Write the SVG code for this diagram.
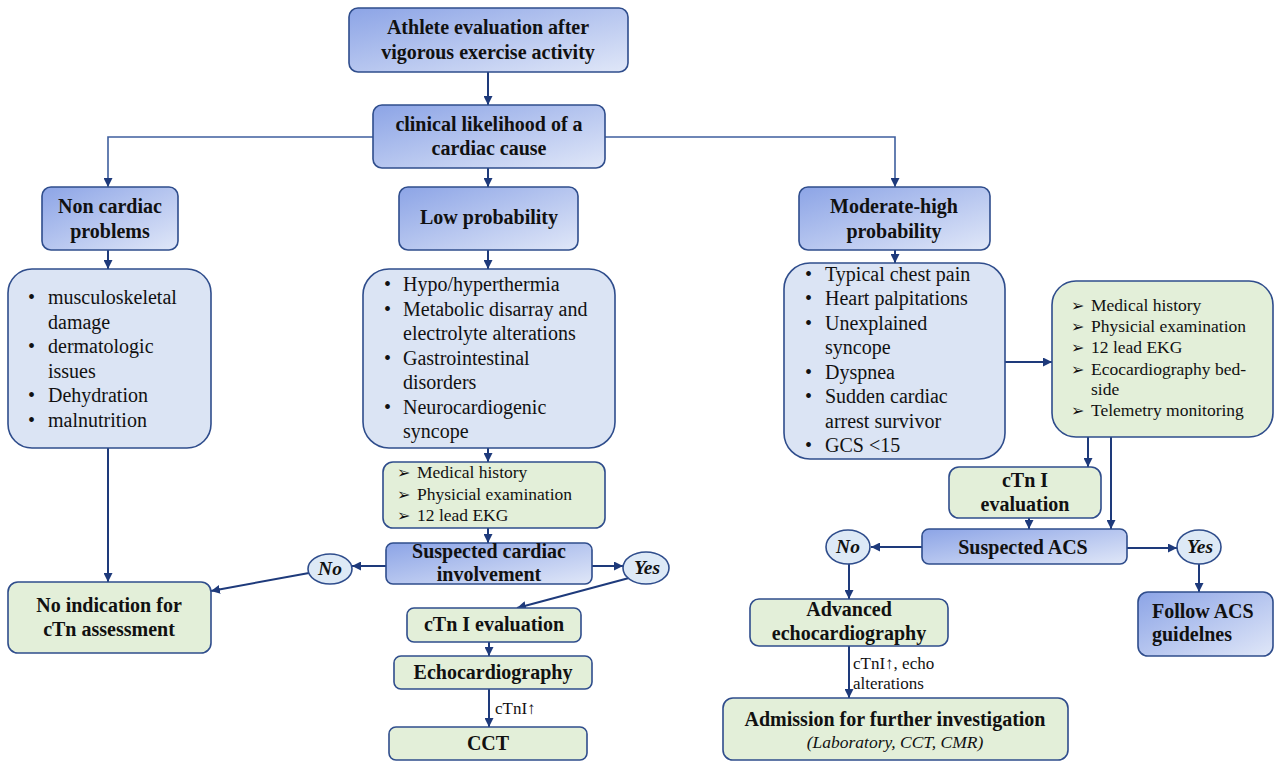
<svg xmlns="http://www.w3.org/2000/svg" width="1274" height="762" viewBox="0 0 1274 762">
<defs>
<linearGradient id="gblue" x1="0" y1="0" x2="1" y2="1">
<stop offset="0" stop-color="#8ca4e6"/>
<stop offset="1" stop-color="#e0e7f8"/>
</linearGradient>
<marker id="ah" viewBox="0 0 10 10" refX="10" refY="5" markerWidth="9" markerHeight="9" markerUnits="userSpaceOnUse" orient="auto">
<path d="M0,0 L10,5 L0,10 z" fill="#1e3a7b"/>
</marker>
<style>
.bb{fill:url(#gblue);stroke:#2f4d8c;stroke-width:1.6}
.lb{fill:#dbe4f4;stroke:#2f4d8c;stroke-width:1.6}
.gb{fill:#e3efd9;stroke:#2f4d8c;stroke-width:1.6}
.el{fill:#dde9f6;stroke:#2f4d8c;stroke-width:1.6}
text{font-family:"Liberation Serif","Times New Roman",serif;fill:#111}
.t{font-weight:bold;font-size:20px;text-anchor:middle}
.l{font-size:20px}
.s{font-size:17.5px}
.bu{font-family:"DejaVu Sans",sans-serif;font-size:16px;font-weight:bold}
.yn{font-weight:bold;font-style:italic;font-size:19.5px;text-anchor:middle}
.c{fill:none;stroke:#1e3a7b;stroke-width:2}
.h{fill:none;stroke:#3f5f9e;stroke-width:1.6}
.lab{font-size:17px}
</style>
</defs>

<g id="connectors">
<path class="c" d="M488,72 V105" marker-end="url(#ah)"/>
<path class="h" d="M373,137 H108 V187" marker-end="url(#ah)"/>
<path class="h" d="M605,137 H895 V187" marker-end="url(#ah)"/>
<path class="c" d="M488,168 V187" marker-end="url(#ah)"/>
<path class="c" d="M488,250 V269" marker-end="url(#ah)"/>
<path class="c" d="M108,250 V269" marker-end="url(#ah)"/>
<path class="c" d="M108,448 V582" marker-end="url(#ah)"/>
<path class="c" d="M488,448 V462" marker-end="url(#ah)"/>
<path class="c" d="M488,528 V543" marker-end="url(#ah)"/>
<path class="c" d="M386,566 H352" marker-end="url(#ah)"/>
<path class="c" d="M592,566 H623" marker-end="url(#ah)"/>
<path class="c" d="M309,573 L211,591" marker-end="url(#ah)"/>
<path class="c" d="M629,578 L517,608" marker-end="url(#ah)"/>
<path class="c" d="M489,642 V656" marker-end="url(#ah)"/>
<path class="c" d="M489,689 V727" marker-end="url(#ah)"/>
<path class="c" d="M895,250 V263" marker-end="url(#ah)"/>
<path class="c" d="M1005,362 H1052" marker-end="url(#ah)"/>
<path class="c" d="M1088,437 V467" marker-end="url(#ah)"/>
<path class="c" d="M1111,437 V529" marker-end="url(#ah)"/>
<path class="c" d="M1029,518 V529" marker-end="url(#ah)"/>
<path class="c" d="M922,547 H871" marker-end="url(#ah)"/>
<path class="c" d="M1127,548 H1177" marker-end="url(#ah)"/>
<path class="c" d="M849,564 V599" marker-end="url(#ah)"/>
<path class="c" d="M1199,564 V592" marker-end="url(#ah)"/>
<path class="c" d="M849,646 V698" marker-end="url(#ah)"/>
<text class="lab" x="495" y="714">cTnI↑</text>
<text class="lab" x="853" y="669">cTnI↑, echo</text>
<text class="lab" x="853" y="689">alterations</text>
</g>

<g id="n-start">
<rect class="bb" x="349" y="8" width="279" height="64" rx="9"/>
<text class="t" x="488" y="34">Athlete evaluation after</text>
<text class="t" x="488" y="59">vigorous exercise activity</text>
</g>

<g id="n-clinical">
<rect class="bb" x="373" y="105" width="232" height="63" rx="9"/>
<text class="t" x="489" y="131">clinical likelihood of a</text>
<text class="t" x="489" y="155">cardiac cause</text>
</g>

<g id="n-noncardiac">
<rect class="bb" x="42" y="187" width="136" height="63" rx="9"/>
<text class="t" x="110" y="213">Non cardiac</text>
<text class="t" x="110" y="238">problems</text>
</g>

<g id="n-low">
<rect class="bb" x="399" y="187" width="179" height="63" rx="9"/>
<text class="t" x="489" y="224">Low probability</text>
</g>

<g id="n-moderate">
<rect class="bb" x="799" y="187" width="191" height="63" rx="9"/>
<text class="t" x="894" y="213">Moderate-high</text>
<text class="t" x="894" y="238">probability</text>
</g>

<g id="n-noncardiac-list">
<rect class="lb" x="8" y="269" width="203" height="179" rx="24"/>
<text class="l"><tspan x="28" y="304">•</tspan><tspan x="48" y="304">musculoskeletal</tspan><tspan x="48" y="328.5">damage</tspan><tspan x="28" y="353">•</tspan><tspan x="48" y="353">dermatologic</tspan><tspan x="48" y="377.5">issues</tspan><tspan x="28" y="402">•</tspan><tspan x="48" y="402">Dehydration</tspan><tspan x="28" y="426.5">•</tspan><tspan x="48" y="426.5">malnutrition</tspan></text>
</g>

<g id="n-low-list">
<rect class="lb" x="363" y="269" width="252" height="179" rx="26"/>
<text class="l"><tspan x="384" y="291">•</tspan><tspan x="403" y="291">Hypo/hyperthermia</tspan><tspan x="384" y="315.5">•</tspan><tspan x="403" y="315.5">Metabolic disarray and</tspan><tspan x="403" y="340">electrolyte alterations</tspan><tspan x="384" y="364.5">•</tspan><tspan x="403" y="364.5">Gastrointestinal</tspan><tspan x="403" y="389">disorders</tspan><tspan x="384" y="413.5">•</tspan><tspan x="403" y="413.5">Neurocardiogenic</tspan><tspan x="403" y="438">syncope</tspan></text>
</g>

<g id="n-mod-list">
<rect class="lb" x="784" y="263" width="221" height="196" rx="26"/>
<text class="l"><tspan x="805" y="281">•</tspan><tspan x="825" y="281">Typical chest pain</tspan><tspan x="805" y="305">•</tspan><tspan x="825" y="305">Heart palpitations</tspan><tspan x="805" y="329.5">•</tspan><tspan x="825" y="329.5">Unexplained</tspan><tspan x="825" y="354">syncope</tspan><tspan x="805" y="378.5">•</tspan><tspan x="825" y="378.5">Dyspnea</tspan><tspan x="805" y="403">•</tspan><tspan x="825" y="403">Sudden cardiac</tspan><tspan x="825" y="427.5">arrest survivor</tspan><tspan x="805" y="452">•</tspan><tspan x="825" y="452">GCS &lt;15</tspan></text>
</g>

<g id="n-low-exam">
<rect class="gb" x="383" y="462" width="222" height="66" rx="10"/>
<text class="s"><tspan class="bu" x="397" y="478">➢</tspan><tspan x="417" y="478">Medical history</tspan><tspan class="bu" x="397" y="500">➢</tspan><tspan x="417" y="500">Physicial examination</tspan><tspan class="bu" x="397" y="521">➢</tspan><tspan x="417" y="521">12 lead EKG</tspan></text>
</g>

<g id="n-mod-exam">
<rect class="gb" x="1052" y="281" width="221" height="156" rx="24"/>
<text class="s"><tspan class="bu" x="1071" y="311">➢</tspan><tspan x="1091" y="311">Medical history</tspan><tspan class="bu" x="1071" y="332">➢</tspan><tspan x="1091" y="332">Physicial examination</tspan><tspan class="bu" x="1071" y="353">➢</tspan><tspan x="1091" y="353">12 lead EKG</tspan><tspan class="bu" x="1071" y="375">➢</tspan><tspan x="1091" y="375">Ecocardiography bed-</tspan><tspan x="1091" y="395">side</tspan><tspan class="bu" x="1071" y="416">➢</tspan><tspan x="1091" y="416">Telemetry monitoring</tspan></text>
</g>

<g id="n-suspected-cardiac">
<rect class="bb" x="386" y="543" width="206" height="41" rx="7"/>
<text class="t" x="489" y="558">Suspected cardiac</text>
<text class="t" x="489" y="581">involvement</text>
</g>

<g id="n-no1">
<ellipse class="el" cx="330" cy="569" rx="22" ry="15"/>
<text class="yn" x="330" y="575">No</text>
</g>

<g id="n-yes1">
<ellipse class="el" cx="646" cy="568" rx="23" ry="16"/>
<text class="yn" x="647" y="574">Yes</text>
</g>

<g id="n-noindication">
<rect class="gb" x="8" y="582" width="203" height="71" rx="10"/>
<text class="t" x="109" y="612">No indication for</text>
<text class="t" x="109" y="636">cTn assessment</text>
</g>

<g id="n-ctn1">
<rect class="gb" x="407" y="608" width="174" height="34" rx="7"/>
<text class="t" x="494" y="631">cTn I evaluation</text>
</g>

<g id="n-echo1">
<rect class="gb" x="394" y="656" width="198" height="33" rx="7"/>
<text class="t" x="493" y="679">Echocardiography</text>
</g>

<g id="n-cct">
<rect class="gb" x="389" y="727" width="198" height="33" rx="7"/>
<text class="t" x="488" y="750">CCT</text>
</g>

<g id="n-ctn2">
<rect class="gb" x="949" y="467" width="152" height="51" rx="10"/>
<text class="t" x="1025" y="487">cTn I</text>
<text class="t" x="1025" y="511">evaluation</text>
</g>

<g id="n-acs">
<rect class="bb" x="922" y="529" width="205" height="35" rx="7"/>
<text class="t" x="1023" y="554">Suspected ACS</text>
</g>

<g id="n-no2">
<ellipse class="el" cx="848" cy="547" rx="22" ry="17"/>
<text class="yn" x="848" y="553">No</text>
</g>

<g id="n-yes2">
<ellipse class="el" cx="1199" cy="547" rx="22" ry="17"/>
<text class="yn" x="1200" y="553">Yes</text>
</g>

<g id="n-advecho">
<rect class="gb" x="750" y="599" width="198" height="47" rx="9"/>
<text class="t" x="849" y="616">Advanced</text>
<text class="t" x="849" y="640">echocardiography</text>
</g>

<g id="n-followacs">
<rect class="bb" x="1138" y="592" width="135" height="64" rx="10"/>
<text class="t" x="1152" y="618" style="text-anchor:start">Follow ACS</text>
<text class="t" x="1152" y="641" style="text-anchor:start">guidelnes</text>
</g>

<g id="n-admission">
<rect class="gb" x="723" y="698" width="345" height="62" rx="10"/>
<text class="t" x="895" y="726">Admission for further investigation</text>
<text x="895" y="748" style="font-style:italic;font-size:17.5px;text-anchor:middle">(Laboratory, CCT, CMR)</text>
</g>
</svg>
